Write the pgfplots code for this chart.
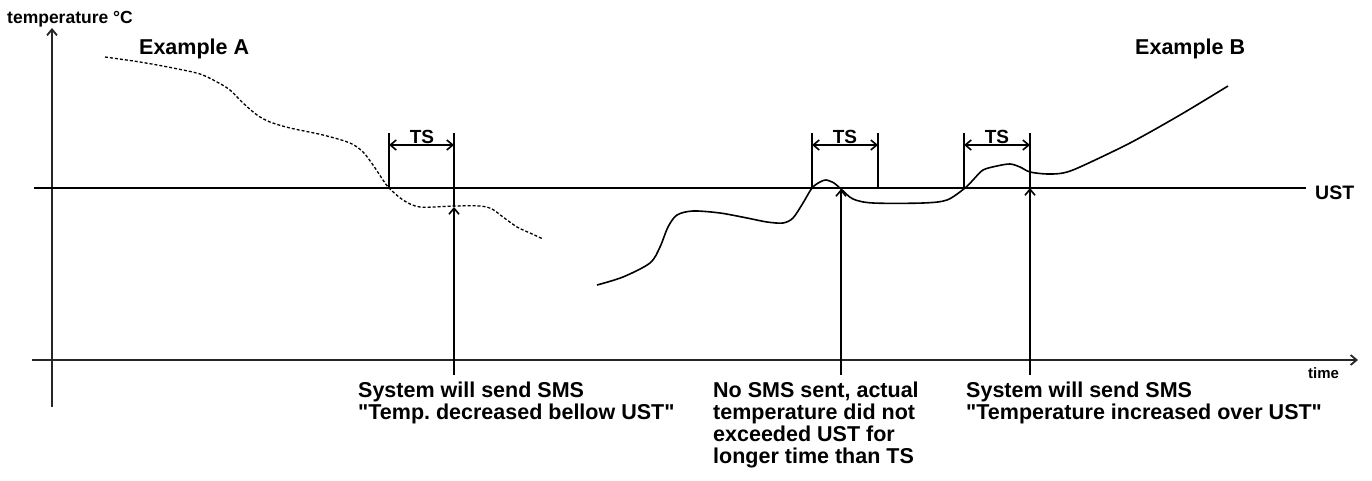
\documentclass[border=0pt]{standalone}
\usepackage{fontspec}
\setmainfont{Liberation Sans}[Ligatures=TeXOff]
\usepackage{pgfplots}
\pgfplotsset{compat=1.18}
\usetikzlibrary{arrows.meta}
\frenchspacing
\begin{document}
\begin{tikzpicture}
\useasboundingbox (0,0) rectangle (1372pt,481pt);
\begin{axis}[at={(0,0)}, anchor=south west, width=1372pt, height=481pt,
  scale only axis, xmin=0, xmax=1372, ymin=0, ymax=481, y dir=reverse,
  hide axis, clip=false]
% axes
\addplot[line width=1.8pt, color=black!85, -{Straight Barb[length=6pt,width=10pt]}] coordinates {(52,407) (52,28)};
\addplot[line width=1.8pt, color=black!85, -{Straight Barb[length=6pt,width=10pt]}] coordinates {(32,360) (1358,360)};
% UST line
\addplot[line width=1.8pt, color=black] coordinates {(34,188) (1306,188)};
% Example A (dashed)
\addplot[line width=1.3pt, dash pattern=on 3pt off 2pt, smooth] coordinates {
(105,57) (140,62) (173,68) (200,74) (217,82) (230,90) (243,103) (257,115)
(270,122) (290,128) (323,135) (350,143) (363,152) (373,165) (383,180) (389,188)
(403,200) (420,207) (454,206) (480,206) (492,209) (503,217) (517,227) (530,233) (543,239)};
% Example B (solid)
\addplot[line width=1.6pt, smooth] coordinates {
(597,285) (623,277) (650,263) (660,247) (668,227) (677,215) (693,211) (720,213)
(747,218) (767,222) (783,223) (793,218) (803,203) (812,188) (820,182) (826,180)
(834,183) (841,189) (853,199) (873,203) (923,203) (947,200) (965,188) (973,180)
(983,170) (997,166) (1010,164) (1020,167) (1030,172) (1047,174) (1063,173)
(1080,167) (1130,143) (1180,115) (1228,86)};
% TS A
\addplot[line width=1.6pt] coordinates {(389,133) (389,188)};
\addplot[line width=1.6pt] coordinates {(454,133) (454,207)};
\addplot[line width=1.6pt, {Straight Barb[length=6pt,width=10pt]}-{Straight Barb[length=6pt,width=10pt]}] coordinates {(389,145) (454,145)};
\addplot[line width=1.6pt, -{Straight Barb[length=6pt,width=10pt]}] coordinates {(454,375) (454,207)};
% TS middle
\addplot[line width=1.6pt] coordinates {(812,133) (812,188)};
\addplot[line width=1.6pt] coordinates {(878,133) (878,188)};
\addplot[line width=1.6pt, {Straight Barb[length=6pt,width=10pt]}-{Straight Barb[length=6pt,width=10pt]}] coordinates {(812,145) (878,145)};
\addplot[line width=1.6pt, -{Straight Barb[length=6pt,width=10pt]}] coordinates {(841,375) (841,189)};
% TS B
\addplot[line width=1.6pt] coordinates {(964,133) (964,188)};
\addplot[line width=1.6pt] coordinates {(1030,133) (1030,188)};
\addplot[line width=1.6pt, {Straight Barb[length=6pt,width=10pt]}-{Straight Barb[length=6pt,width=10pt]}] coordinates {(964,145) (1030,145)};
\addplot[line width=1.6pt, -{Straight Barb[length=6pt,width=10pt]}] coordinates {(1030,375) (1030,188)};
% labels
\tikzset{lbl/.style={inner sep=0pt, anchor=base west, font=\bfseries\fontsize{21.5}{22}\selectfont}}
\node[inner sep=0pt, anchor=base west, font=\bfseries\fontsize{17.5}{18}\selectfont] at (axis cs:7,24) {temperature °C};
\node[lbl] at (axis cs:139,55) {Example A};
\node[lbl] at (axis cs:1135,55) {Example B};
\node[inner sep=0pt, anchor=base west, font=\bfseries\fontsize{19.5}{20}\selectfont] at (axis cs:1315,199) {UST};
\node[inner sep=0pt, anchor=base west, font=\bfseries\fontsize{15}{16}\selectfont] at (axis cs:1308,378) {time};
\node[inner sep=0pt, anchor=base, font=\bfseries\fontsize{19}{19}\selectfont] at (axis cs:422,144) {TS};
\node[inner sep=0pt, anchor=base, font=\bfseries\fontsize{19}{19}\selectfont] at (axis cs:845,144) {TS};
\node[inner sep=0pt, anchor=base, font=\bfseries\fontsize{19}{19}\selectfont] at (axis cs:997,144) {TS};
\node[lbl] at (axis cs:358,397) {System will send SMS};
\node[lbl] at (axis cs:358,419) {"Temp.\ decreased bellow UST"};
\node[lbl] at (axis cs:713,397) {No SMS sent, actual};
\node[lbl] at (axis cs:713,419) {temperature did not};
\node[lbl] at (axis cs:713,441) {exceeded UST for};
\node[lbl] at (axis cs:713,463) {longer time than TS};
\node[lbl] at (axis cs:966,397) {System will send SMS};
\node[lbl] at (axis cs:966,419) {"Temperature increased over UST"};
\end{axis}
\end{tikzpicture}
\end{document}
